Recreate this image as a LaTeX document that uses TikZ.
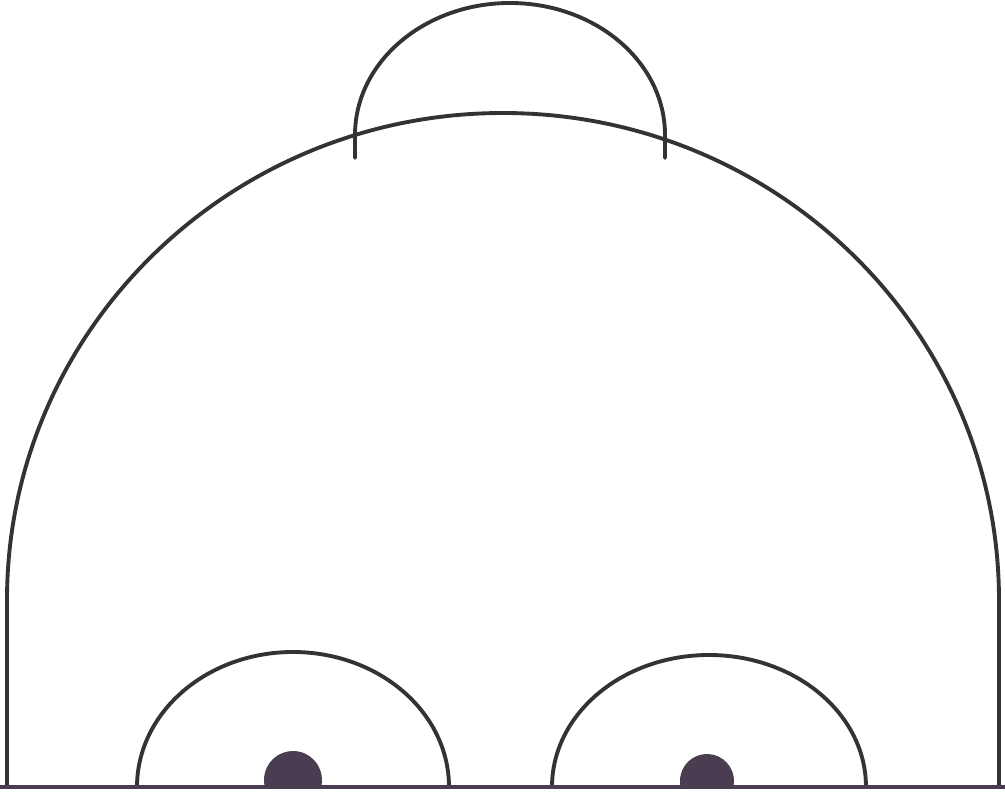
\documentclass[tikz,border=0pt]{standalone}
\definecolor{inkline}{HTML}{333333}
\definecolor{inkdisc}{HTML}{4A3D52}
\begin{document}
\begin{tikzpicture}[x=0.01cm, y=0.01cm, line width=1.1pt,
  archline/.style={draw=inkline, line cap=round, line join=round}]
\useasboundingbox (0,0) rectangle (1005,793);
% big dome
\draw[archline] (7,6) -- (7,193) arc[start angle=180, end angle=0, x radius=496, y radius=487] -- (999,6);
% small dome on top
\draw[archline] (355,635) -- (355,658) arc[start angle=180, end angle=0, x radius=155, y radius=132] -- (665,635);
% lower arches
\draw[archline] (137,6) arc[start angle=180, end angle=0, x radius=156, y radius=135];
\draw[archline] (552,6) arc[start angle=180, end angle=0, x radius=157, y radius=132];
% dark discs cut by the ground
\fill[inkdisc] (293,13) ++(-14:29) arc[start angle=-14, end angle=194, radius=29] -- cycle;
\fill[inkdisc] (707,12) ++(-14:27) arc[start angle=-14, end angle=194, radius=27] -- cycle;
% ground line
\draw[inkdisc, line width=1.3pt] (0,6) -- (1005,6);
\end{tikzpicture}
\end{document}
